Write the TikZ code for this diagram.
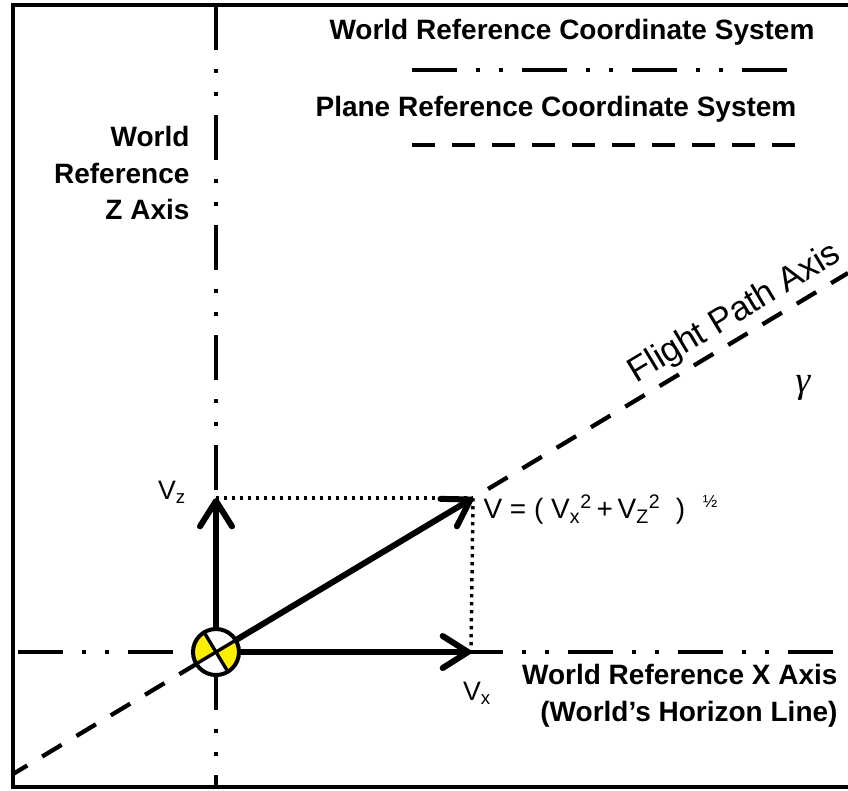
\documentclass[tikz,border=0pt]{standalone}
\usepackage{fontspec}
\setmainfont{Liberation Sans}
\newfontfamily\greekfont{Liberation Serif}
\usetikzlibrary{arrows.meta}

\tikzset{every picture/.style={line width=0.75pt}}
\tikzset{
  worldaxis/.style={line width=3.2pt, dash pattern=on 33.75pt off 14.25pt on 3pt off 14.25pt on 3pt off 14.25pt},
  planeaxis/.style={line width=3.2pt, dash pattern=on 17pt off 13pt},
  projline/.style={line width=2.6pt, dash pattern=on 2.6pt off 3.4pt},
  vecarrow/.style={line width=4.5pt, -{Straight Barb[length=19pt,width=24pt,round]}},
  boldlabel/.style={font=\fontsize{21}{27.5}\selectfont\bfseries, inner sep=0pt},
  veclabel/.style={font=\fontsize{20}{22}\selectfont, inner sep=0pt},
}

\begin{document}
\begin{tikzpicture}[x=0.75pt,y=0.75pt,yscale=-1,xscale=1]
\useasboundingbox (0,0) rectangle (848,790);

% points
\coordinate (O) at (216,652);
\coordinate (ztop) at (216,5);
\coordinate (zbot) at (216,787);
\coordinate (xleft) at (18,652);
\coordinate (xright) at (834,652);
\coordinate (fpleft) at (13,774);
\coordinate (fpright) at (848,273);
\coordinate (vztip) at (216,498);
\coordinate (vxtip) at (471,652);
\coordinate (vtip) at (473,498);

%Shape: Frame
\draw [line width=3pt] (848,5) -- (13,5) -- (13,787) -- (848,787) ;

%Shape: Legend lines
\draw [worldaxis] (412,70) -- (788,70) ;
\draw [planeaxis] (412,145) -- (797,145) ;

%Shape: World axes
\draw [worldaxis] (ztop) -- (zbot) ;
\draw [worldaxis] (xleft) -- (xright) ;
%Shape: Flight path axis
\draw [planeaxis, dash phase=4.5pt] (fpleft) -- (fpright) ;

%Shape: Projections
\draw [projline] (vztip) -- (vtip) ;
\draw [projline] (vtip) -- (vxtip) ;

%Shape: Velocity vectors
\draw [vecarrow] (O) -- (vztip) ;
\draw [vecarrow] (O) -- (vxtip) ;
\draw [vecarrow] (O) -- (vtip) ;

%Shape: Aircraft symbol
\fill [white] (O) circle (23) ;
\fill [color={rgb, 255:red, 255; green, 240; blue, 0 }] (O) -- ++(149:23) arc[start angle=149, end angle=239, radius=23] -- cycle ;
\fill [color={rgb, 255:red, 255; green, 240; blue, 0 }] (O) -- ++(-31:23) arc[start angle=-31, end angle=59, radius=23] -- cycle ;
\draw [line width=2.5pt] (O) ++(149:23) -- ++(-31:46) ;
\draw [line width=2.5pt] (O) ++(239:23) -- ++(59:46) ;
\draw [line width=3pt] (O) circle (23) ;

% Text Node
\node [boldlabel] (worldleg) at (572,32) {World Reference Coordinate System};
% Text Node
\node [boldlabel] (planeleg) at (556,109) {Plane Reference Coordinate System};
% Text Node
\node [boldlabel, align=right, anchor=east] (zlabel) at (190,173) {World\\Reference\\Z Axis};
% Text Node
\node [boldlabel, align=right, anchor=east] (xlabel) at (838,696) {World Reference X Axis\\(World’s Horizon Line)};
% Text Node
\node [font=\fontsize{26}{26}\selectfont, rotate=31, inner sep=0pt] (fplabel) at (735,314) {Flight Path Axis};
% Text Node
\node [font=\fontsize{28}{28}\selectfont\greekfont\itshape, inner sep=0pt] (gamma) at (803,388) {γ};
% Text Node
\node [veclabel] (vzlabel) at (172,492) {V\textsubscript{z}};
% Text Node
\node [veclabel] (vxlabel) at (477,693) {V\textsubscript{x}};
% Text Node
\node [veclabel, font=\fontsize{21}{22}\selectfont, anchor=west] (vlabel) at (483,510) {V = ( V\textsubscript{x}\textsuperscript{2}\,+\,V\textsubscript{Z}\textsuperscript{2}\hspace{0.55em}) \hspace{0.35em}\raisebox{0.8ex}{\fontsize{13}{13}\selectfont ½}};

\end{tikzpicture}
\end{document}
